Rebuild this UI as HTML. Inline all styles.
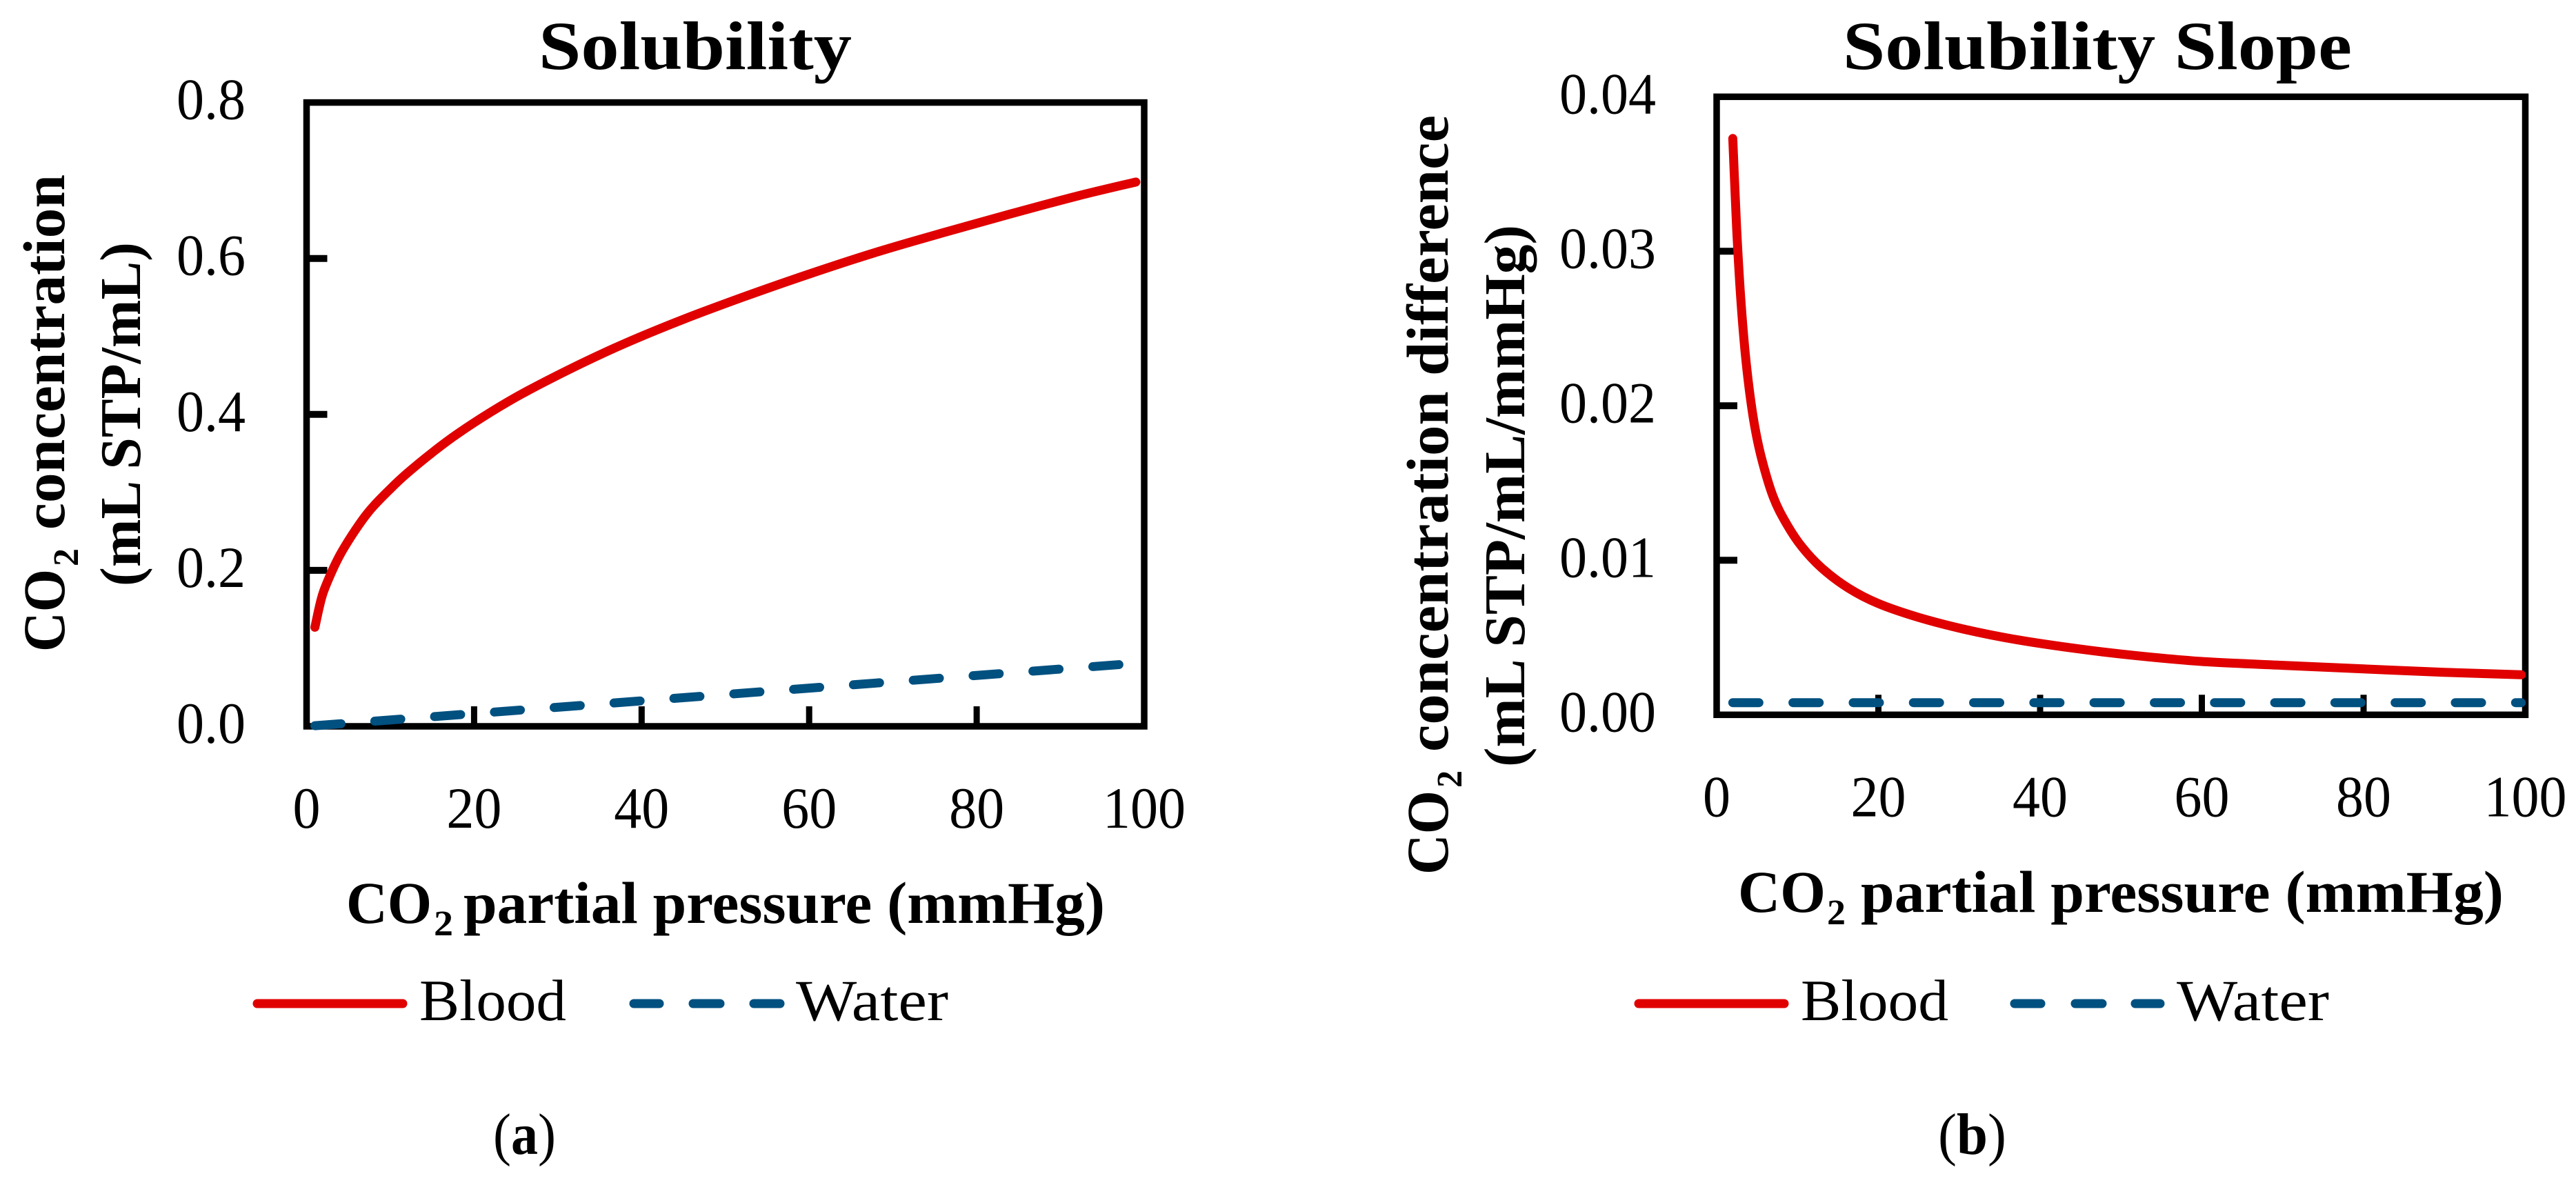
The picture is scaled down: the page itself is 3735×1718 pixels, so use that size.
<!DOCTYPE html>
<html lang="en">
<head>
<meta charset="utf-8">
<title>CO2 Solubility and Solubility Slope</title>
<style>
html,body{margin:0;padding:0;background:#fff;}
svg{display:block;}
text{font-family:"Liberation Serif",serif;fill:#000;}
.b{font-weight:bold;}
</style>
</head>
<body>
<svg id="fig" xmlns="http://www.w3.org/2000/svg" width="3735" height="1718" viewBox="0 0 3735 1718">
  <rect width="3735" height="1718" fill="#fff"/>

  <!-- Panel a static text -->
  <text class="b" x="781" y="100" font-size="100" textLength="454" lengthAdjust="spacingAndGlyphs">Solubility</text>
  <g>
    <text class="b" transform="translate(93,945) rotate(-90)" font-size="86" textLength="120" lengthAdjust="spacingAndGlyphs">CO</text>
    <text class="b" transform="translate(113,821) rotate(-90)" font-size="52" textLength="26" lengthAdjust="spacingAndGlyphs">2</text>
    <text class="b" transform="translate(93,768) rotate(-90)" font-size="86" textLength="515" lengthAdjust="spacingAndGlyphs">concentration</text>
    <text class="b" transform="translate(203,850) rotate(-90)" font-size="84" textLength="499" lengthAdjust="spacingAndGlyphs">(mL STP/mL)</text>
  </g>
  <g>
    <text class="b" x="502" y="1338" font-size="86" textLength="124" lengthAdjust="spacingAndGlyphs">CO</text>
    <text class="b" x="629" y="1356" font-size="52" textLength="28" lengthAdjust="spacingAndGlyphs">2</text>
    <text class="b" x="672" y="1338" font-size="86" textLength="930" lengthAdjust="spacingAndGlyphs">partial pressure (mmHg)</text>
  </g>
  <g>
    <line x1="373" y1="1455" x2="584" y2="1455" stroke="#e00000" stroke-width="13" stroke-linecap="round"/>
    <text x="608" y="1479" font-size="85" textLength="213" lengthAdjust="spacingAndGlyphs">Blood</text>
    <line x1="919" y1="1455" x2="956" y2="1455" stroke="#005080" stroke-width="13" stroke-linecap="round"/>
    <line x1="1005" y1="1455" x2="1044" y2="1455" stroke="#005080" stroke-width="13" stroke-linecap="round"/>
    <line x1="1093" y1="1455" x2="1131" y2="1455" stroke="#005080" stroke-width="13" stroke-linecap="round"/>
    <text x="1154" y="1479" font-size="85" textLength="221" lengthAdjust="spacingAndGlyphs">Water</text>
  </g>
  <text x="715" y="1673" font-size="85" textLength="91" lengthAdjust="spacingAndGlyphs">(<tspan class="b">a</tspan>)</text>

  <!-- Panel b static text -->
  <text class="b" x="2672" y="100" font-size="100" textLength="738" lengthAdjust="spacingAndGlyphs">Solubility Slope</text>
  <g>
    <text class="b" transform="translate(2099,1268) rotate(-90)" font-size="86" textLength="122" lengthAdjust="spacingAndGlyphs">CO</text>
    <text class="b" transform="translate(2119,1142) rotate(-90)" font-size="52" textLength="25" lengthAdjust="spacingAndGlyphs">2</text>
    <text class="b" transform="translate(2099,1090) rotate(-90)" font-size="86" textLength="923" lengthAdjust="spacingAndGlyphs">concentration difference</text>
    <text class="b" transform="translate(2210,1112) rotate(-90)" font-size="84" textLength="786" lengthAdjust="spacingAndGlyphs">(mL STP/mL/mmHg)</text>
  </g>
  <g>
    <text class="b" x="2520" y="1322" font-size="86" textLength="127" lengthAdjust="spacingAndGlyphs">CO</text>
    <text class="b" x="2649" y="1340" font-size="52" textLength="27" lengthAdjust="spacingAndGlyphs">2</text>
    <text class="b" x="2698" y="1322" font-size="86" textLength="932" lengthAdjust="spacingAndGlyphs">partial pressure (mmHg)</text>
  </g>
  <g>
    <line x1="2376" y1="1455" x2="2587" y2="1455" stroke="#e00000" stroke-width="13" stroke-linecap="round"/>
    <text x="2611" y="1479" font-size="85" textLength="214" lengthAdjust="spacingAndGlyphs">Blood</text>
    <line x1="2921" y1="1455" x2="2959" y2="1455" stroke="#005080" stroke-width="13" stroke-linecap="round"/>
    <line x1="3009" y1="1455" x2="3048" y2="1455" stroke="#005080" stroke-width="13" stroke-linecap="round"/>
    <line x1="3096" y1="1455" x2="3132" y2="1455" stroke="#005080" stroke-width="13" stroke-linecap="round"/>
    <text x="3156" y="1479" font-size="85" textLength="221" lengthAdjust="spacingAndGlyphs">Water</text>
  </g>
  <text x="2810" y="1673" font-size="85" textLength="99" lengthAdjust="spacingAndGlyphs">(<tspan class="b">b</tspan>)</text>

  <g id="plots"></g>
</svg>
<script>
// Shared x tick values
const xTickValues = [0, 20, 40, 60, 80, 100];

// Panel a data
const aYTickLabels = ["0.0", "0.2", "0.4", "0.6", "0.8"];
const aBloodPressure = [1, 1.5, 2, 3, 4, 5, 6, 7, 8, 10, 12, 15, 18, 22, 26, 32, 38, 45, 52, 60, 68, 76, 84, 92, 99];
const aBloodConc = [0.127, 0.152, 0.172, 0.198, 0.22, 0.238, 0.2545, 0.2695, 0.2825, 0.3045, 0.3245, 0.351, 0.375, 0.403, 0.428, 0.461, 0.491, 0.522, 0.55, 0.58, 0.608, 0.633, 0.657, 0.68, 0.698];
const aWaterPressure = [1, 99];
const aWaterConc = [0.0008, 0.0808];

// Panel b data
const bYTickLabels = ["0.00", "0.01", "0.02", "0.03", "0.04"];
const bBloodPressure = [2, 2.3, 2.6, 3, 3.5, 4, 4.7, 5.6, 7, 8.6, 10.5, 13, 16.3, 20, 25, 30.5, 37, 45, 52, 60, 70, 80, 90, 99.5];
const bBloodSlope = [0.0373, 0.0335, 0.0302, 0.0268, 0.0236, 0.0212, 0.0187, 0.0165, 0.0141, 0.0124, 0.0109, 0.0095, 0.0082, 0.0072, 0.0063, 0.00555, 0.00487, 0.00425, 0.00382, 0.00345, 0.0032, 0.00297, 0.00275, 0.00259];
const bWaterPressure = [2, 99.5];
const bWaterSlope = [0.000786, 0.000786];

const NS = "http://www.w3.org/2000/svg";
const root = document.getElementById("plots");

function make(tag, attrs, parent) {
  const el = document.createElementNS(NS, tag);
  for (const k in attrs) el.setAttribute(k, attrs[k]);
  parent.appendChild(el);
  return el;
}

function labelWidth(s) {
  let w = 0;
  for (const c of s) w += (c === "." ? 20 : 40);
  return w;
}

function smoothPath(pts) {
  let d = "M" + pts[0][0].toFixed(1) + " " + pts[0][1].toFixed(1);
  for (let i = 0; i < pts.length - 1; i++) {
    const p0 = pts[Math.max(i - 1, 0)], p1 = pts[i], p2 = pts[i + 1], p3 = pts[Math.min(i + 2, pts.length - 1)];
    const c1x = p1[0] + (p2[0] - p0[0]) / 6, c1y = p1[1] + (p2[1] - p0[1]) / 6;
    const c2x = p2[0] - (p3[0] - p1[0]) / 6, c2y = p2[1] - (p3[1] - p1[1]) / 6;
    d += "C" + c1x.toFixed(1) + " " + c1y.toFixed(1) + " " + c2x.toFixed(1) + " " + c2y.toFixed(1) + " " + p2[0].toFixed(1) + " " + p2[1].toFixed(1);
  }
  return d;
}

function drawPlot(cfg) {
  const g = make("g", {}, root);
  
  

  const xScale = v => cfg.left + v / 100 * (cfg.right - cfg.left);
  const yScale = v => cfg.bottom - v / cfg.yMax * (cfg.bottom - cfg.top);

  const frame = make("rect", {x: cfg.left, y: cfg.top, width: cfg.right - cfg.left, height: cfg.bottom - cfg.top, fill: "none", stroke: "#000", "stroke-width": 9.5}, g);
  
  

  cfg.yLabels.forEach(function (lab) {
    const y = yScale(parseFloat(lab));
    if (parseFloat(lab) > 0 && parseFloat(lab) < cfg.yMax) {
      const t = make("line", {x1: cfg.left, x2: cfg.left + 30, y1: y, y2: y, stroke: "#000", "stroke-width": 10}, g);
      
      
    }
    const txt = make("text", {x: cfg.yLabelX, y: y + 24, "font-size": 85, "text-anchor": "end", textLength: labelWidth(lab), lengthAdjust: "spacingAndGlyphs"}, g);
    txt.textContent = lab;
    
    
  });

  xTickValues.forEach(function (v) {
    const x = xScale(v);
    if (v > 0 && v < 100) {
      const t = make("line", {x1: x, x2: x, y1: cfg.bottom, y2: cfg.bottom - 29, stroke: "#000", "stroke-width": 9}, g);
      
      
    }
    const lab = String(v);
    const txt = make("text", {x: x, y: cfg.bottom + 147, "font-size": 85, "text-anchor": "middle", textLength: labelWidth(lab), lengthAdjust: "spacingAndGlyphs"}, g);
    txt.textContent = lab;
    
    
  });

  const bloodPts = cfg.bloodX.map((p, i) => [xScale(p), yScale(cfg.bloodY[i])]);
  const blood = make("path", {d: smoothPath(bloodPts), fill: "none", stroke: "#e00000", "stroke-width": 13, "stroke-linecap": "round", "stroke-linejoin": "round"}, g);
  
  

  const waterPts = cfg.waterX.map((p, i) => [xScale(p), yScale(cfg.waterY[i])]);
  const water = make("path", {d: smoothPath(waterPts), fill: "none", stroke: "#005080", "stroke-width": 13, "stroke-linecap": "round", "stroke-dasharray": cfg.dash}, g);
  
  
}

drawPlot({name: "chart-a-solubility", left: 444.5, right: 1659, top: 148.6, bottom: 1053, yMax: 0.8, yLabelX: 356, yLabels: aYTickLabels, bloodX: aBloodPressure, bloodY: aBloodConc, waterX: aWaterPressure, waterY: aWaterConc, dash: "38 49"});
drawPlot({name: "chart-b-solubility-slope", left: 2489, right: 3661.5, top: 140.3, bottom: 1036.3, yMax: 0.04, yLabelX: 2401, yLabels: bYTickLabels, bloodX: bBloodPressure, bloodY: bBloodSlope, waterX: bWaterPressure, waterY: bWaterSlope, dash: "38 49.3"});
</script>
</body>
</html>
